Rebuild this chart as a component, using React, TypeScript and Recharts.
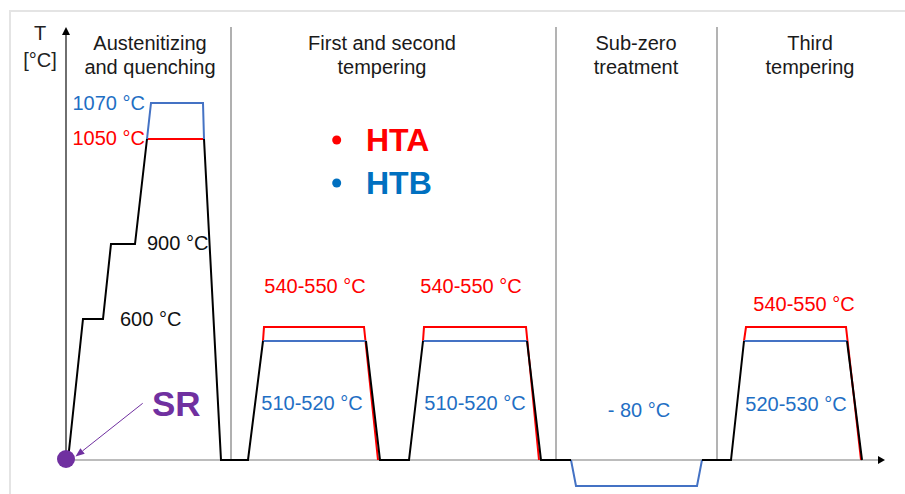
import { Line, LineChart, ReferenceDot, ReferenceLine, XAxis, YAxis } from "recharts";

// Schematic heat-treatment route. x = process time, y = height as drawn
// (the original diagram is not to scale, so levels are read off the picture).
const FONT = "'Liberation Sans', Arial, sans-serif";
const RED = "#FF0000";
const BLUE_LINE = "#4472C4";
const BLUE_TEXT = "#1F6FC4";
const PURPLE = "#7030A0";

// drawn levels
const austenitizingSteps = [141, 216, 321]; // 600 °C, 900 °C, 1050 °C (HTA)
const htbAustenitizing = 357; // 1070 °C
const temperingHta = 133; // 540-550 °C
const temperingHtb = 119; // 510-520 / 520-530 °C
const subZero = -26; // -80 °C

const [s600, s900, s1050] = austenitizingSteps;

// common heating / cooling ramps (black)
const rampPath: Array<[number, number | null]> = [
  [2, 0], [17, s600], [37, s600], [45, s900], [69, s900], [81, s1050], [100, null],
  [138, s1050], [155, 0], [182, 0], [197, temperingHtb], [250, null],
  [300, temperingHtb], [314, 0], [343, 0], [357, temperingHtb], [400, null],
  [461, temperingHtb], [475, 0], [505, 0], [570, null],
  [636, 0], [665, 0], [678, temperingHtb], [730, null],
  [781, temperingHtb], [796, 0],
];

// HTA holding segments (red)
const htaPath: Array<[number, number | null]> = [
  [81, s1050], [138, s1050], [160, null],
  [197, temperingHtb], [198, temperingHta], [298, temperingHta], [312, 0], [330, null],
  [357, temperingHtb], [358, temperingHta], [460, temperingHta], [473, 0], [490, null],
  [678, temperingHtb], [680, temperingHta], [780, temperingHta], [795, 0],
];

// HTB holding segments (blue)
const htbPath: Array<[number, number | null]> = [
  [81, s1050], [85, htbAustenitizing], [137, htbAustenitizing], [138, s1050], [160, null],
  [197, temperingHtb], [300, temperingHtb], [320, null],
  [357, temperingHtb], [461, temperingHtb], [480, null],
  [505, 0], [510, subZero], [631, subZero], [636, 0], [650, null],
  [678, temperingHtb], [781, temperingHtb],
];

const stageBounds = [165, 490, 651];
const stageTitles = [
  { x: 84, lines: ["Austenitizing", "and quenching"] },
  { x: 316, lines: ["First and second", "tempering"] },
  { x: 570, lines: ["Sub-zero", "treatment"] },
  { x: 744, lines: ["Third", "tempering"] },
];

type Note = {
  text: string;
  x: number;
  y: number;
  color: string;
  size?: number;
  weight?: string;
  anchor?: "start" | "middle" | "end";
};

const notes: Note[] = [
  { text: "T", x: -26, y: 427, color: "#222" },
  { text: "[°C]", x: -26, y: 400, color: "#222" },
  { text: "1070 °C", x: 79, y: 357, color: BLUE_TEXT, anchor: "end" },
  { text: "1050 °C", x: 79, y: 322, color: RED, anchor: "end" },
  { text: "900 °C", x: 81, y: 217, color: "#111", anchor: "start" },
  { text: "600 °C", x: 54, y: 141, color: "#111", anchor: "start" },
  { text: "540-550 °C", x: 249, y: 174, color: RED },
  { text: "540-550 °C", x: 405, y: 174, color: RED },
  { text: "540-550 °C", x: 738, y: 156, color: RED },
  { text: "510-520 °C", x: 246, y: 57, color: BLUE_TEXT },
  { text: "510-520 °C", x: 409, y: 57, color: BLUE_TEXT },
  { text: "- 80 °C", x: 573, y: 50, color: BLUE_TEXT },
  { text: "520-530 °C", x: 730, y: 56, color: BLUE_TEXT },
  { text: "HTA", x: 300, y: 320, color: RED, size: 32, weight: "bold", anchor: "start" },
  { text: "HTB", x: 300, y: 277, color: "#0070C0", size: 32, weight: "bold", anchor: "start" },
  { text: "SR", x: 86, y: 57, color: PURPLE, size: 35, weight: "bold", anchor: "start" },
];

const toRows = (path: Array<[number, number | null]>) => path.map(([t, v]) => ({ t, v }));

const textShape = (n: Note) => (p: any) => (
  <text
    x={p.cx}
    y={p.cy}
    textAnchor={n.anchor ?? "middle"}
    dominantBaseline="central"
    fill={n.color}
    fontSize={n.size ?? 20}
    fontWeight={n.weight ?? "normal"}
    fontFamily={FONT}
  >
    {n.text}
  </text>
);

const arrowShape = (lineColor: string, headColor: string, width: number, head: number, half: number) => (p: any) => {
  const { x1, y1, x2, y2 } = p;
  const a = Math.atan2(y2 - y1, x2 - x1);
  const bx = x2 - head * Math.cos(a);
  const by = y2 - head * Math.sin(a);
  const pts = `${x2},${y2} ${bx - half * Math.sin(a)},${by + half * Math.cos(a)} ${bx + half * Math.sin(a)},${by - half * Math.cos(a)}`;
  return (
    <g>
      <line x1={x1} y1={y1} x2={bx} y2={by} stroke={lineColor} strokeWidth={width} />
      <polygon points={pts} fill={headColor} />
    </g>
  );
};

export default function App() {
  return (
    <div style={{ position: "absolute", left: 0, top: 0, width: 905, height: 494, background: "#fff", overflow: "hidden" }}>
      <div
        style={{
          position: "absolute",
          left: 9,
          top: 10,
          width: 900,
          height: 490,
          borderLeft: "2px solid #e4e4e4",
          borderTop: "2px solid #e4e4e4",
        }}
      />
      <div style={{ position: "absolute", left: 0, top: 0 }}>
        <LineChart width={905} height={494} margin={{ top: 27, right: 19, bottom: 4, left: 66 }}>
          <XAxis dataKey="t" type="number" domain={[0, 820]} hide allowDataOverflow />
          <YAxis type="number" domain={[-30, 433]} hide allowDataOverflow />

          {stageBounds.map((x, i) => (
            <ReferenceLine
              key={`sep-${i}`}
              segment={[{ x, y: 0 }, { x, y: 433 }]}
              stroke={i === 0 ? "#b0b0b0" : "#8a8a8a"}
              strokeWidth={i === 0 ? 2 : 1.3}
              ifOverflow="visible"
            />
          ))}

          <ReferenceLine
            segment={[{ x: 0, y: 0 }, { x: 819, y: 0 }]}
            ifOverflow="visible"
            shape={arrowShape("#a6a6a6", "#000", 1.6, 7, 4)}
          />
          <ReferenceLine
            segment={[{ x: 0, y: 0 }, { x: 0, y: 433 }]}
            ifOverflow="visible"
            shape={arrowShape("#333", "#000", 1.4, 8, 4)}
          />

          <Line data={toRows(htaPath)} dataKey="v" stroke={RED} strokeWidth={2} dot={false} isAnimationActive={false} />
          <Line data={toRows(htbPath)} dataKey="v" stroke={BLUE_LINE} strokeWidth={2} dot={false} isAnimationActive={false} />
          <Line data={toRows(rampPath)} dataKey="v" stroke="#000" strokeWidth={2} dot={false} isAnimationActive={false} />

          <ReferenceLine
            segment={[{ x: 76.7, y: 56.7 }, { x: 9.5, y: 3.5 }]}
            ifOverflow="visible"
            shape={arrowShape(PURPLE, PURPLE, 1, 9, 3.5)}
          />
          <ReferenceDot x={0} y={1} r={9} fill={PURPLE} stroke="none" ifOverflow="visible" />
          <ReferenceDot x={270.7} y={320} r={4.5} fill={RED} stroke="none" ifOverflow="visible" />
          <ReferenceDot x={270.7} y={277} r={4.5} fill="#0070C0" stroke="none" ifOverflow="visible" />

          {stageTitles.flatMap((s, i) =>
            s.lines.map((line, j) => (
              <ReferenceDot
                key={`title-${i}-${j}`}
                x={s.x}
                y={417 - j * 24}
                r={0}
                ifOverflow="visible"
                shape={textShape({ text: line, x: s.x, y: 0, color: "#1a1a1a" })}
              />
            ))
          )}
          {notes.map((n, i) => (
            <ReferenceDot key={`note-${i}`} x={n.x} y={n.y} r={0} ifOverflow="visible" shape={textShape(n)} />
          ))}
        </LineChart>
      </div>
    </div>
  );
}
